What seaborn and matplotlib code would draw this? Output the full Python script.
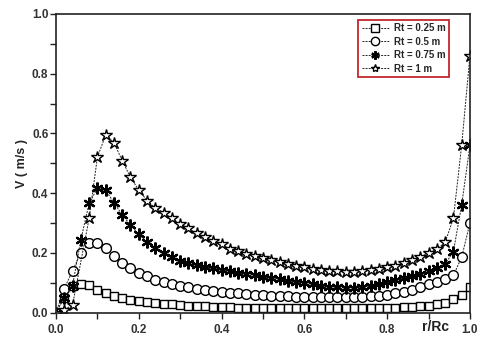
import numpy as np
import pandas as pd
import seaborn as sns
import matplotlib.pyplot as plt
from matplotlib.ticker import MultipleLocator

# r/Rc grid (star series has no point at 0.06)
r = [0.00, 0.02, 0.04, 0.06, 0.08, 0.10, 0.12, 0.14, 0.16, 0.18,
     0.20, 0.22, 0.24, 0.26, 0.28, 0.30, 0.32, 0.34, 0.36, 0.38,
     0.40, 0.42, 0.44, 0.46, 0.48, 0.50, 0.52, 0.54, 0.56, 0.58,
     0.60, 0.62, 0.64, 0.66, 0.68, 0.70, 0.72, 0.74, 0.76, 0.78,
     0.80, 0.82, 0.84, 0.86, 0.88, 0.90, 0.92, 0.94, 0.96, 0.98, 1.00]
r_star = r[:3] + r[4:]

v_025 = [0.0, 0.05, 0.09, 0.095, 0.092, 0.077, 0.065, 0.055, 0.048, 0.043,
         0.038, 0.034, 0.031, 0.029, 0.027, 0.025, 0.023, 0.022, 0.021, 0.019,
         0.018, 0.017, 0.016, 0.016, 0.015, 0.015, 0.014, 0.014, 0.014, 0.014,
         0.014, 0.014, 0.014, 0.014, 0.014, 0.014, 0.014, 0.014, 0.014, 0.014,
         0.015, 0.016, 0.018, 0.019, 0.021, 0.023, 0.027, 0.033, 0.044, 0.059, 0.086]
v_05 = [0.0, 0.08, 0.14, 0.20, 0.232, 0.233, 0.216, 0.188, 0.166, 0.149,
        0.134, 0.121, 0.110, 0.102, 0.095, 0.089, 0.084, 0.080, 0.076, 0.073,
        0.070, 0.067, 0.064, 0.062, 0.060, 0.058, 0.056, 0.055, 0.054, 0.053,
        0.052, 0.051, 0.051, 0.051, 0.051, 0.051, 0.051, 0.052, 0.054, 0.056,
        0.059, 0.064, 0.070, 0.077, 0.085, 0.094, 0.103, 0.112, 0.124, 0.185, 0.30]
v_075 = [0.0, 0.05, 0.09, 0.243, 0.366, 0.416, 0.41, 0.368, 0.327, 0.293,
         0.262, 0.236, 0.217, 0.200, 0.185, 0.172, 0.165, 0.158, 0.152, 0.148,
         0.144, 0.138, 0.133, 0.128, 0.124, 0.120, 0.115, 0.111, 0.106, 0.102,
         0.098, 0.094, 0.090, 0.087, 0.084, 0.082, 0.082, 0.084, 0.088, 0.095,
         0.102, 0.108, 0.115, 0.122, 0.130, 0.140, 0.150, 0.162, 0.204, 0.36, 0.56]
v_1 = [0.0, 0.01, 0.025, 0.315, 0.52, 0.595, 0.569, 0.509, 0.453,
       0.41, 0.375, 0.350, 0.335, 0.315, 0.297, 0.282, 0.265, 0.252, 0.240,
       0.228, 0.214, 0.205, 0.196, 0.188, 0.181, 0.175, 0.169, 0.163, 0.157,
       0.151, 0.147, 0.143, 0.140, 0.138, 0.137, 0.137, 0.139, 0.142, 0.146,
       0.151, 0.157, 0.165, 0.175, 0.187, 0.200, 0.212, 0.235, 0.315, 0.56, 0.86]

labels = ["Rt = 0.25 m", "Rt = 0.5 m", "Rt = 0.75 m", "Rt = 1 m"]

sns.set_style('ticks')
plt.rcParams['font.family'] = ['Liberation Sans', 'DejaVu Sans']
plt.rcParams['font.weight'] = 'bold'

fig = plt.figure(figsize=(4.81, 3.38), dpi=100)
ax = fig.add_axes([0.1164, 0.0754, 0.8606, 0.8832])

series = [(r, v_025, 's', 6.3, 1.0),
          (r, v_05, 'o', 7.0, 1.0),
          (r, v_075, (6, 2, 0), 8.5, 1.6),
          (r_star, v_1, '*', 9.0, 1.0)]
for (xs, ys, mk, ms, mew), lab in zip(series, labels):
    sns.lineplot(x=xs, y=ys, ax=ax, label=lab, color='#222222',
                 linewidth=0.7, linestyle=(0, (2.0, 1.2)),
                 marker=mk, markersize=ms, markerfacecolor='white',
                 markeredgecolor='black', markeredgewidth=mew)

ax.set_xlim(0, 1.0)
ax.set_ylim(0, 1.0)
ax.xaxis.set_major_locator(MultipleLocator(0.2))
ax.xaxis.set_minor_locator(MultipleLocator(0.1))
ax.yaxis.set_major_locator(MultipleLocator(0.2))
ax.yaxis.set_minor_locator(MultipleLocator(0.1))
ax.xaxis.set_major_formatter(plt.FormatStrFormatter('%.1f'))
ax.yaxis.set_major_formatter(plt.FormatStrFormatter('%.1f'))
ax.tick_params(which='both', direction='out', length=4, width=1.0,
               color='#222222', labelsize=8.5, labelcolor='#333333', pad=1.5)
ax.tick_params(axis='x', pad=4.5)
ax.tick_params(top=False, right=False)
for s in ax.spines.values():
    s.set_color('#222222')
    s.set_linewidth(1.2)

ax.set_ylabel("V ( m/s )", fontsize=9, fontweight='bold', labelpad=3)
ax.set_xlabel("")
ax.text(0.916, -0.047, "r/Rc", transform=ax.transAxes, fontsize=10,
        fontweight='bold', ha='center', va='center', color='#222222')

leg = ax.legend(loc='upper right', bbox_to_anchor=(0.949, 0.98),
                borderaxespad=0, fontsize=7, handlelength=2.8,
                labelspacing=0.35, handletextpad=0.5, borderpad=0.35,
                fancybox=False, framealpha=1)
leg.get_frame().set_edgecolor('#c0272d')
leg.get_frame().set_linewidth(1.3)
for t in leg.get_texts():
    t.set_fontweight('bold')
for h in leg.legend_handles:
    h.set_markersize(6)

fig.savefig('out.png', dpi=100)
